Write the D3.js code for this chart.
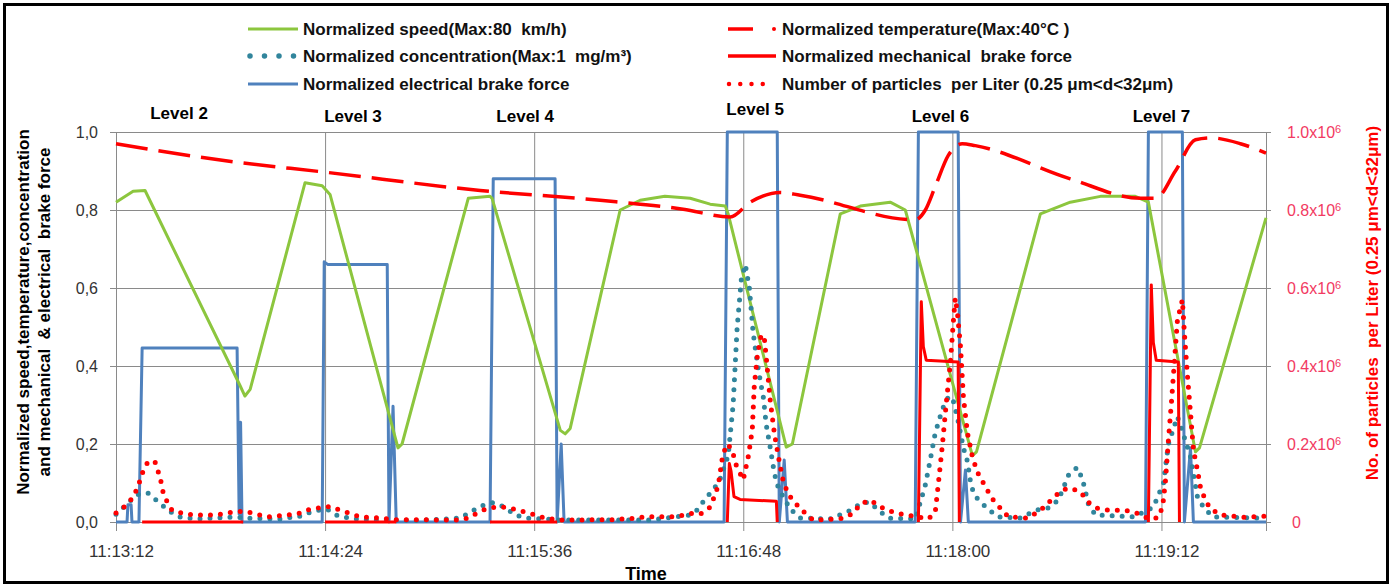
<!DOCTYPE html>
<html>
<head>
<meta charset="utf-8">
<script src="https://cdn.jsdelivr.net/npm/d3@7"></script>
<style>
  body { margin: 0; background: #fff; }
  text { font-family: "Liberation Sans", Arial, sans-serif; white-space: pre; }
</style>
</head>
<body>
<div id="chart"></div>
<script>
// time in seconds after 11:13:12, values normalized (particles in counts per liter)
var startTime = "11:13:12";
var endTime = "11:19:48";
var xTickLabels = ["11:13:12", "11:14:24", "11:15:36", "11:16:48", "11:18:00", "11:19:12"];
var yTicks = [0, 0.2, 0.4, 0.6, 0.8, 1.0];
var yRightTicks = [0, 200000, 400000, 600000, 800000, 1000000];

var levelNames = ["Level 2", "Level 3", "Level 4", "Level 5", "Level 6", "Level 7"];
var levelTimes = [21.7, 81.6, 140.9, 220.1, 283.9, 360];
var levelHeights = [1.048, 1.042, 1.042, 1.058, 1.042, 1.042];

var speed = [[0,0.82],[5.9,0.848],[10,0.85],[42.7,0.35],[44.4,0.323],[46.2,0.34],[65.1,0.87],[71,0.862],
  [73.7,0.84],[97.1,0.19],[98.5,0.2],[121.3,0.83],[128.8,0.835],[129.5,0.83],[153,0.235],[154.7,0.226],
  [156.4,0.24],[173.6,0.8],[180.5,0.825],[189,0.835],[197.7,0.83],[204.6,0.815],[209.8,0.81],[210.8,0.79],
  [230.8,0.192],[232.9,0.2],[249.4,0.79],[256.3,0.81],[266.6,0.82],[271.8,0.8],[294.9,0.17],[296.3,0.18],
  [318.3,0.79],[328.6,0.82],[339,0.835],[351,0.835],[355.5,0.82],[371.7,0.18],[373.1,0.19],[396,0.78]];

var temperature = [[0,0.97],[39,0.925],[72,0.897],[125.4,0.85],[166.7,0.825],[195.3,0.802],[211.5,0.782],
  [218.4,0.82],[228.7,0.845],[235.6,0.838],[275.2,0.775],[278.7,0.8],[282.1,0.86],[286.6,0.94],[291.4,0.97],
  [295.9,0.965],[328.6,0.88],[352.8,0.83],[358,0.83],[364.8,0.9],[371.7,0.98],[376.9,0.985],[387.2,0.97],[396,0.946]];

var electrical = [[0,0],[3.8,0],[4.1,0.044],[5.2,0.044],[5.5,0],[7.9,0],[9,0.446],[41.7,0.446],[42.4,0.02],
  [42.9,0.256],[43.4,0],[71,0],[71.7,0.667],[73,0.66],[93.4,0.66],[94,0],[95.4,0.297],[96.5,0],[128.8,0],
  [129.9,0.88],[151.2,0.88],[151.9,0],[153.3,0.2],[154.3,0],[209.4,0],[210.5,1],[227.7,1],[228.4,0],
  [230.1,0.159],[231.2,0],[275.2,0],[276.3,1],[290,1],[290.8,0],[292.5,0.133],[293.5,0],[354.5,0],
  [355.5,1],[367.2,1],[367.9,0],[370,0.19],[371,0],[396,0]];

var mechanical = [[9,0],[43.8,0],null,[72,0],[96.5,0],null,[128.8,0],[151.9,0],null,
  [210.5,0],[211.2,0.15],[211.8,0.13],[212.8,0.065],[214.9,0.058],[227.4,0.053],[227.7,0],null,
  [276.3,0],[277.3,0.565],[278,0.45],[279,0.415],[290,0.41],[290.4,0],null,
  [355.5,0],[356.5,0.608],[357.2,0.46],[358.2,0.415],[365.8,0.41],[366.2,0]];

var concentration = [[0,0.02],[3.8,0.046],[7.2,0.07],[11,0.074],[14.8,0.05],[18.3,0.028],[22,0.013],
  [27.2,0.008],[34.1,0.01],[40.3,0.013],[45.1,0.01],[56.5,0.008],[63.4,0.015],[67.9,0.028],[72.7,0.033],
  [76.5,0.015],[82.3,0.008],[90.9,0.005],[104.7,0.004],[118.5,0.01],[125.4,0.04],[129.5,0.05],[133.3,0.04],
  [137.5,0.018],[141.9,0.01],[153,0.005],[184,0.005],[197.7,0.018],[200.5,0.033],[202.9,0.06],[205.7,0.082],
  [208,0.11],[210.8,0.17],[212.5,0.3],[213.9,0.5],[215.3,0.62],[216.7,0.66],[218.1,0.6],[219.4,0.485],
  [221.2,0.39],[222.9,0.32],[223.9,0.25],[225.3,0.19],[226.7,0.125],[228.1,0.087],[232.2,0.033],[235.6,0.01],
  [246,0.008],[252.9,0.03],[257,0.05],[259.7,0.05],[262.5,0.03],[266,0.01],[275.3,0.008],[278.7,0.095],
  [280.4,0.16],[282.1,0.228],[284.6,0.29],[286.6,0.32],[288,0.32],[289.7,0.27],[291.8,0.19],[293.2,0.155],
  [294.5,0.09],[296.6,0.06],[300,0.035],[303.8,0.013],[311.4,0.01],[316.6,0.03],[321.1,0.036],[324.5,0.056],
  [328,0.12],[331,0.14],[332.8,0.11],[334.9,0.044],[337.3,0.018],[350.4,0.013],[357.2,0.038],[360.7,0.1],
  [362.4,0.2],[365.5,0.27],[367.4,0.228],[370,0.167],[372.4,0.064],[374.5,0.038],[377.6,0.013],[396,0.01]];

var particles = [[0,23e3],[3.1,40e3],[5.5,60e3],[6.9,80e3],[8.3,107e3],[9.3,130e3],[11,155e3],[13.4,155e3],
  [14.5,130e3],[15.5,103e3],[16.2,77e3],[17.6,52e3],[19.3,30e3],[23.1,22e3],[26.5,18e3],[34.1,18e3],[41,26e3],
  [44.4,28e3],[48.6,20e3],[52,13e3],[59.3,18e3],[63.4,23e3],[66.8,33e3],[73.7,40e3],[77.2,30e3],[80.6,22e3],
  [84.1,13e3],[91.6,10e3],[95.1,6e3],[117.8,5e3],[121.3,10e3],[124.4,23e3],[127.8,35e3],[131.3,38e3],
  [134.7,38e3],[138.5,30e3],[142.6,22e3],[146.1,13e3],[149.5,8e3],[153.6,5e3],[171.2,6e3],[179.5,10e3],
  [182.9,14e3],[190.2,13e3],[194,15e3],[197.7,22e3],[201.2,20e3],[204.6,38e3],[206.3,70e3],[207.4,95e3],
  [208,125e3],[208.7,160e3],[209.8,190e3],[210.8,200e3],[212.5,175e3],[213.6,145e3],[216,108e3],[217.7,167e3],
  [219.1,236e3],[219.8,350e3],[220.9,430e3],[222.2,480e3],[223.2,475e3],[224.2,400e3],[225.3,310e3],
  [226.7,228e3],[228.1,167e3],[229.8,103e3],[231.2,77e3],[232.9,56e3],[237.4,22e3],[240.1,5e3],[249.4,8e3],
  [253.9,22e3],[256.3,46e3],[259.7,56e3],[264.9,32e3],[269,22e3],[272.5,18e3],[279.7,8e3],[282.1,25e3],
  [283.2,100e3],[284.6,200e3],[285.9,305e3],[287.3,407e3],[288.3,510e3],[289,574e3],[289.7,540e3],
  [290.8,450e3],[291.8,320e3],[293.2,228e3],[294.9,167e3],[296.6,128e3],[300,82e3],[302.1,56e3],[305.2,30e3],
  [307.3,13e3],[313.8,10e3],[316.6,22e3],[320,40e3],[322.4,60e3],[325.9,82e3],[328.6,87e3],[332.1,77e3],
  [334.9,50e3],[338,35e3],[340.7,31e3],[347.6,30e3],[351.7,22e3],[355.2,10e3],[358.6,10e3],[360.4,38e3],
  [361.4,107e3],[362.4,210e3],[363.5,313e3],[364.5,415e3],[365.5,518e3],[367.2,570e3],[367.9,484e3],
  [368.9,380e3],[370,280e3],[371,185e3],[372.4,133e3],[373.4,90e3],[375.1,56e3],[376.8,35e3],[380.3,18e3],
  [388.9,12e3],[396,15e3]];

var legendLeft = ["Normalized speed(Max:80  km/h)", "Normalized concentration(Max:1  mg/m\u00b3)", "Normalized electrical brake force"];
var legendRight = ["Normalized temperature(Max:40\u00b0C )", "Normalized mechanical  brake force", "Number of particles  per Liter (0.25 \u03bcm<d<32\u03bcm)"];

var width = 1392;
var height = 586;
var plot = {left: 116, right: 1266, top: 132, bottom: 522};

var green = "#8cc63e", blue = "#4f81bd", teal = "#31859c", red = "#ff0000", pink = "#f23a62";

var parse = d3.timeParse("%H:%M:%S");
var t0 = parse(startTime);
function at(s) { return new Date(t0.getTime() + s * 1000); }

var svg = d3.select("#chart")
	.append("svg")
		.attr("width", width)
		.attr("height", height);

svg.append("rect")
	.attr("width", width).attr("height", height)
	.attr("fill", "#fff");

var x = d3.scaleTime()
	.domain([t0, parse(endTime)])
	.range([plot.left, plot.right]);
var y = d3.scaleLinear().domain([0, 1]).range([plot.bottom, plot.top]);
var yR = d3.scaleLinear().domain([0, 1e6]).range([plot.bottom, plot.top]);

// grid
svg.append("g")
	.attr("transform", "translate(" + (plot.left - 6) + ",0)")
	.call(d3.axisRight(y).tickValues(yTicks).tickSize(plot.right - plot.left + 11).tickFormat(""))
	.call(function(g) { g.select(".domain").remove(); g.selectAll("line").attr("stroke", "#8a8a8a"); });

var xTickDates = xTickLabels.map(parse);
svg.append("g")
	.attr("transform", "translate(0," + plot.top + ")")
	.call(d3.axisBottom(x).tickValues(xTickDates.concat([parse(endTime)])).tickSize(plot.bottom - plot.top + 9).tickFormat(""))
	.call(function(g) { g.select(".domain").remove(); g.selectAll("line").attr("stroke", "#8a8a8a"); });

// axes labels
svg.append("g")
	.attr("transform", "translate(" + plot.left + ",0)")
	.call(d3.axisLeft(y).tickValues(yTicks).tickSize(0).tickPadding(18)
		.tickFormat(function(d) { return d3.format(".1f")(d).replace(".", ","); }))
	.call(function(g) {
		g.select(".domain").remove();
		g.selectAll("text").attr("font-size", 16).attr("fill", "#333")
			.style("font-family", "'Liberation Sans', Arial, sans-serif");
	});

svg.append("g")
	.attr("transform", "translate(" + plot.right + ",0)")
	.call(d3.axisRight(yR).tickValues(yRightTicks).tickSize(0).tickPadding(21)
		.tickFormat(function(d) { return d === 0 ? "0" : d3.format(".1f")(d / 1e6) + "x10"; }))
	.call(function(g) {
		g.select(".domain").remove();
		g.selectAll("text").attr("font-size", 16).attr("fill", pink)
			.style("font-family", "'Liberation Sans', Arial, sans-serif")
			.each(function(d) {
				if (d !== 0) {
					d3.select(this).append("tspan").attr("dy", "-0.45em").attr("font-size", 11).text("6");
				}
			});
		g.selectAll("text").filter(function(d) { return d === 0; }).attr("dx", 5);
	});

svg.append("g")
	.attr("transform", "translate(0," + plot.bottom + ")")
	.call(d3.axisBottom(x).tickValues(xTickDates).tickSize(0).tickPadding(23)
		.tickFormat(d3.timeFormat("%H:%M:%S")))
	.call(function(g) {
		g.select(".domain").remove();
		g.selectAll("text").attr("font-size", 17).attr("fill", "#333").attr("dx", 5)
			.style("font-family", "'Liberation Sans', Arial, sans-serif");
	});

svg.append("text")
	.attr("x", 646).attr("y", 580)
	.attr("text-anchor", "middle").attr("font-size", 18).attr("font-weight", "bold")
	.text("Time");

svg.append("text")
	.attr("transform", "translate(29,312) rotate(-90)")
	.attr("text-anchor", "middle").attr("font-size", 17).attr("font-weight", "bold")
	.text("Normalized speed,temperature,concentration");
svg.append("text")
	.attr("transform", "translate(50,312) rotate(-90)")
	.attr("text-anchor", "middle").attr("font-size", 17).attr("font-weight", "bold")
	.text("and mechanical  & electrical  brake force");

svg.append("text")
	.attr("transform", "translate(1378,303) rotate(-90)")
	.attr("text-anchor", "middle").attr("font-size", 17).attr("font-weight", "bold")
	.attr("fill", red)
	.text("No. of particles  per Liter (0.25 \u03bcm<d<32\u03bcm)");

// series
var line = d3.line()
	.defined(function(d) { return d !== null; })
	.x(function(d) { return x(at(d[0])); })
	.y(function(d) { return y(d[1]); });
var lineR = d3.line()
	.x(function(d) { return x(at(d[0])); })
	.y(function(d) { return yR(d[1]); });

var series = svg.append("g").attr("fill", "none");

series.append("path").datum(electrical).attr("d", line)
	.attr("stroke", blue).attr("stroke-width", 3).attr("stroke-linejoin", "round");
series.append("path").datum(speed).attr("d", line)
	.attr("stroke", green).attr("stroke-width", 3).attr("stroke-linejoin", "round");
series.append("path").datum(temperature).attr("d", d3.line().curve(d3.curveMonotoneX)
		.x(function(d) { return x(at(d[0])); }).y(function(d) { return y(d[1]); }))
	.attr("stroke", red).attr("stroke-width", 3.5).attr("stroke-dasharray", "32 11");
series.append("path").datum(concentration).attr("d", line)
	.attr("stroke", teal).attr("stroke-width", 5).attr("stroke-linecap", "round")
	.attr("stroke-dasharray", "0 10");
series.append("path").datum(particles).attr("d", lineR)
	.attr("stroke", red).attr("stroke-width", 5).attr("stroke-linecap", "round")
	.attr("stroke-dasharray", "0 10");
series.append("path").datum(mechanical).attr("d", line)
	.attr("stroke", red).attr("stroke-width", 3).attr("stroke-linejoin", "round");

// level labels
svg.append("g").selectAll("text")
	.data(levelNames)
	.enter()
	.append("text")
		.attr("x", function(d, i) { return x(at(levelTimes[i])); })
		.attr("y", function(d, i) { return y(levelHeights[i]); })
		.attr("dy", "0.35em")
		.attr("text-anchor", "middle")
		.attr("font-size", 17).attr("font-weight", "bold")
		.text(function(d) { return d; });

// legend
var rowY = [29, 56, 84];
var leg = svg.append("g");
legendLeft.forEach(function(label, i) {
	leg.append("text").attr("x", 303).attr("y", rowY[i]).attr("dy", "0.35em")
		.attr("font-size", 17).attr("font-weight", "bold").attr("fill", "#111").text(label);
});
legendRight.forEach(function(label, i) {
	leg.append("text").attr("x", 782).attr("y", rowY[i]).attr("dy", "0.35em")
		.attr("font-size", 17).attr("font-weight", "bold").attr("fill", "#111").text(label);
});
leg.append("line").attr("x1", 248).attr("x2", 298).attr("y1", rowY[0]).attr("y2", rowY[0])
	.attr("stroke", green).attr("stroke-width", 3);
leg.append("line").attr("x1", 250).attr("x2", 294).attr("y1", rowY[1]).attr("y2", rowY[1])
	.attr("stroke", teal).attr("stroke-width", 5.5).attr("stroke-linecap", "round").attr("stroke-dasharray", "0 14.5");
leg.append("line").attr("x1", 248).attr("x2", 298).attr("y1", rowY[2]).attr("y2", rowY[2])
	.attr("stroke", blue).attr("stroke-width", 3);
leg.append("line").attr("x1", 728).attr("x2", 753).attr("y1", rowY[0]).attr("y2", rowY[0])
	.attr("stroke", red).attr("stroke-width", 3.5);
leg.append("circle").attr("cx", 774).attr("cy", rowY[0]).attr("r", 2).attr("fill", red);
leg.append("line").attr("x1", 728).attr("x2", 776).attr("y1", rowY[1]).attr("y2", rowY[1])
	.attr("stroke", red).attr("stroke-width", 3.5);
leg.append("line").attr("x1", 729).attr("x2", 774).attr("y1", rowY[2]).attr("y2", rowY[2])
	.attr("stroke", red).attr("stroke-width", 4.5).attr("stroke-linecap", "round").attr("stroke-dasharray", "0 11.25");

// frame
svg.append("rect")
	.attr("x", 4.5).attr("y", 4.5).attr("width", 1383).attr("height", 578)
	.attr("fill", "none").attr("stroke", "#000").attr("stroke-width", 3);
</script>
</body>
</html>
